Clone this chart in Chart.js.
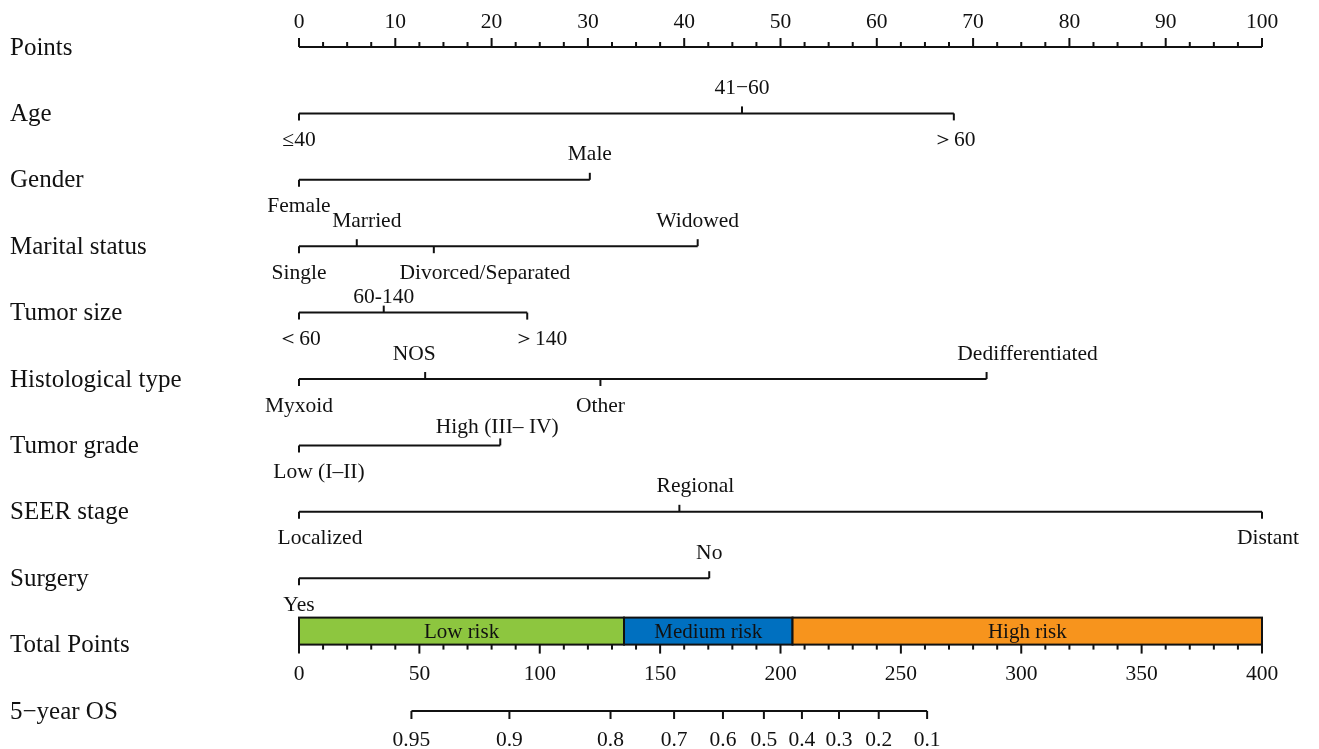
<!DOCTYPE html>
<html>
<head>
<meta charset="utf-8">
<title>Nomogram - 5-year OS</title>
<script src="https://cdn.jsdelivr.net/npm/chart.js@4.4.0/dist/chart.umd.min.js"></script>
<style>
  html, body { margin: 0; padding: 0; background: #fff; }
  #wrap { width: 1319px; height: 749px; position: relative; }
</style>
</head>
<body>
<div id="wrap"><canvas id="nomo"></canvas></div>
<script>
// Row names, top to bottom
const rowNames = ['Points', 'Age', 'Gender', 'Marital status', 'Tumor size', 'Histological type',
    'Tumor grade', 'SEER stage', 'Surgery', 'Total Points', '5\u2212year OS'];

// Predictor levels and the points each one scores
const ageLevels = ['\u226440', '41\u221260', '\uff1e60'];
const agePoints = [0, 46, 68];
const genderLevels = ['Female', 'Male'];
const genderPoints = [0, 30.2];
const maritalLevels = ['Single', 'Married', 'Divorced/Separated', 'Widowed'];
const maritalPoints = [0, 6, 14, 41.4];
const sizeLevels = ['\uff1c60', '60-140', '\uff1e140'];
const sizePoints = [0, 8.8, 23.7];
const histLevels = ['Myxoid', 'NOS', 'Other', 'Dedifferentiated'];
const histPoints = [0, 13.1, 31.3, 71.4];
const gradeLevels = ['Low (I\u2013II)', 'High (III\u2013 IV)'];
const gradePoints = [0, 20.9];
const seerLevels = ['Localized', 'Regional', 'Distant'];
const seerPoints = [0, 39.5, 100];
const surgeryLevels = ['Yes', 'No'];
const surgeryPoints = [0, 42.6];

// Points axis (0-100) and total points axis (0-400)
const pointTicks = [0, 10, 20, 30, 40, 50, 60, 70, 80, 90, 100];
const pointMinorStep = 2.5;
const totalTicks = [0, 50, 100, 150, 200, 250, 300, 350, 400];
const totalMinorStep = 10;

// 5-year OS probabilities and the total points where they sit
const osLabels = ['0.95', '0.9', '0.8', '0.7', '0.6', '0.5', '0.4', '0.3', '0.2', '0.1'];
const osTotals = [46.7, 87.4, 129.4, 155.8, 176.1, 193.1, 208.9, 224.3, 240.8, 260.9];

// Risk groups on the total points scale
const riskNames = ['Low risk', 'Medium risk', 'High risk'];
const riskFrom = [0, 135, 205];
const riskTo = [135, 205, 400];
const riskColors = ['#8dc63f', '#0070c0', '#f7941d'];

const predictors = [
    { row: 1, levels: ageLevels, points: agePoints },
    { row: 2, levels: genderLevels, points: genderPoints },
    { row: 3, levels: maritalLevels, points: maritalPoints },
    { row: 4, levels: sizeLevels, points: sizePoints },
    { row: 5, levels: histLevels, points: histPoints },
    { row: 6, levels: gradeLevels, points: gradePoints },
    { row: 7, levels: seerLevels, points: seerPoints },
    { row: 8, levels: surgeryLevels, points: surgeryPoints }
];
const TOTAL_ROW = 9;
const OS_ROW = 10;

const INK = '#111';
const SERIF = '"Liberation Serif", "Times New Roman", serif';

// label placement tweaks (pixels), like the hand-adjusted labels in the original figure
const labelNudge = {
    'Divorced/Separated': [51, 0],
    'Low (I\u2013II)': [20, 0],
    'Localized': [21, 0],
    'Dedifferentiated': [41, 0],
    'Regional': [16, 0],
    '\uff1e140': [13, 0],
    'Married': [10, 0],
    'NOS': [-11, 0],
    'Distant': [6, 0],
    '60-140': [0, 10],
    'High (III\u2013 IV)': [-3, 7]
};

function lineDataset(data, xAxisID) {
    return {
        data: data,
        xAxisID: xAxisID || 'x',
        showLine: true,
        borderColor: INK,
        borderWidth: 2,
        pointRadius: 0,
        clip: false
    };
}

const datasets = [lineDataset([{ x: pointTicks[0], y: 0 }, { x: pointTicks[pointTicks.length - 1], y: 0 }])];
predictors.forEach(p => {
    datasets.push(lineDataset([{ x: 0, y: p.row }, { x: Math.max(...p.points), y: p.row }]));
});
datasets.push(lineDataset([{ x: osTotals[0], y: OS_ROW }, { x: osTotals[osTotals.length - 1], y: OS_ROW }], 'xt'));

// Draws ticks, labels and the risk bar using the chart's own scales
const nomogramPlugin = {
    id: 'nomogram',
    beforeDatasetsDraw(chart) {
        const ctx = chart.ctx;
        const xt = chart.scales.xt, y = chart.scales.y;
        const base = y.getPixelForValue(TOTAL_ROW);
        const top = base - 27;
        ctx.save();
        riskNames.forEach((name, i) => {
            const x0 = xt.getPixelForValue(riskFrom[i]);
            const x1 = xt.getPixelForValue(riskTo[i]);
            ctx.fillStyle = riskColors[i];
            ctx.fillRect(x0, top, x1 - x0, base - top);
            ctx.strokeStyle = INK;
            ctx.lineWidth = 2;
            ctx.strokeRect(x0, top, x1 - x0, base - top);
            ctx.fillStyle = INK;
            ctx.font = '21px ' + SERIF;
            ctx.textAlign = 'center';
            ctx.textBaseline = 'middle';
            ctx.fillText(name, (x0 + x1) / 2, (top + base) / 2 + 1);
        });
        ctx.restore();
    },
    afterDatasetsDraw(chart) {
        const ctx = chart.ctx;
        const x = chart.scales.x, xt = chart.scales.xt, y = chart.scales.y;
        ctx.save();
        ctx.strokeStyle = INK;
        ctx.fillStyle = INK;
        ctx.lineWidth = 2;
        ctx.textAlign = 'center';
        ctx.textBaseline = 'middle';

        const tick = (px, py, len) => {
            ctx.beginPath();
            ctx.moveTo(px, py);
            ctx.lineTo(px, py + len);
            ctx.stroke();
        };

        // row names
        ctx.font = '25px ' + SERIF;
        ctx.textAlign = 'left';
        rowNames.forEach((name, i) => ctx.fillText(name, 10, y.getPixelForValue(i) + 1));
        ctx.textAlign = 'center';

        // points axis (ticks upward, labels above)
        const py0 = y.getPixelForValue(0);
        ctx.font = '21.5px ' + SERIF;
        const pMax = pointTicks[pointTicks.length - 1];
        for (let v = 0; v <= pMax + 1e-9; v += pointMinorStep) {
            const major = pointTicks.includes(v);
            tick(x.getPixelForValue(v), py0, major ? -9 : -5);
        }
        pointTicks.forEach(v => ctx.fillText(String(v), x.getPixelForValue(v), py0 - 25));

        // predictor rows: labels alternate below / above along the line
        predictors.forEach(p => {
            const py = y.getPixelForValue(p.row);
            const order = p.points.map((v, i) => i).sort((a, b) => p.points[a] - p.points[b]);
            order.forEach((idx, k) => {
                const px = x.getPixelForValue(p.points[idx]);
                const below = k % 2 === 0;
                const nudge = labelNudge[p.levels[idx]] || [0, 0];
                tick(px, py, below ? 7 : -7);
                ctx.fillText(p.levels[idx], px + nudge[0], py + (below ? 27 : -25) + nudge[1]);
            });
        });

        // total points axis (ticks downward from bar bottom)
        const pyT = y.getPixelForValue(TOTAL_ROW);
        const tMax = totalTicks[totalTicks.length - 1];
        for (let v = 0; v <= tMax; v += totalMinorStep) {
            const major = totalTicks.includes(v);
            tick(xt.getPixelForValue(v), pyT, major ? 9 : 5);
        }
        totalTicks.forEach(v => ctx.fillText(String(v), xt.getPixelForValue(v), pyT + 30));

        // 5-year OS axis
        const pyO = y.getPixelForValue(OS_ROW);
        osTotals.forEach((v, i) => {
            const px = xt.getPixelForValue(v);
            tick(px, pyO, 8);
            ctx.fillText(osLabels[i], px, pyO + 29);
        });

        ctx.restore();
    }
};

new Chart(document.getElementById('nomo'), {
    type: 'scatter',
    data: { datasets: datasets },
    options: {
        responsive: true,
        maintainAspectRatio: false,
        animation: false,
        layout: { padding: { left: 299, right: 57, top: 47, bottom: 38 } },
        plugins: {
            legend: { display: false },
            tooltip: { enabled: false }
        },
        scales: {
            x: { type: 'linear', min: 0, max: 100, display: false },
            xt: { type: 'linear', min: 0, max: 400, display: false },
            y: { type: 'linear', min: 0, max: 10, reverse: true, display: false }
        }
    },
    plugins: [nomogramPlugin]
});
</script>
</body>
</html>
